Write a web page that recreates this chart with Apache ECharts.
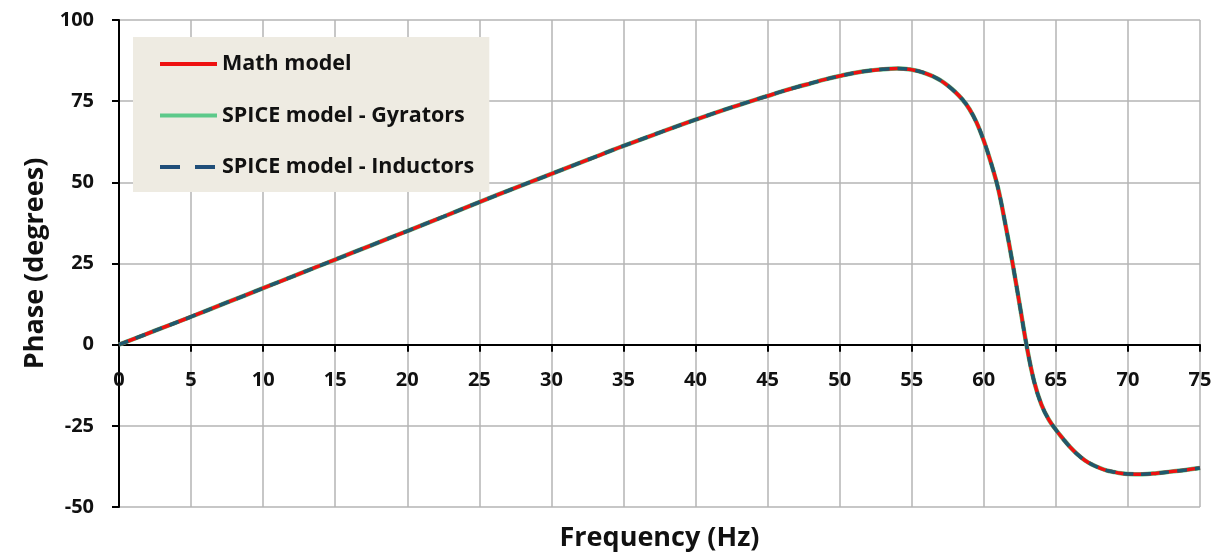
<!DOCTYPE html>
<html>
<head>
<meta charset="utf-8">
<script src="https://cdn.jsdelivr.net/npm/echarts@6/dist/echarts.min.js"></script>
<style>
html,body{margin:0;padding:0;background:#fff;}
#chart{width:1227px;height:556px;}
</style>
</head>
<body>
<div id="chart"></div>
<script>
// Frequency (Hz)
var freq = [0, 2.5, 5, 7.5, 10, 12.5, 15, 17.5, 20, 22.5, 25, 27.5, 30, 32.5, 35, 37.5, 40, 42.5, 45, 46, 47, 48, 49, 50, 51, 52, 53, 54, 55, 55.5, 56, 56.5, 57, 57.5, 58, 58.5, 59, 59.5, 60, 60.5, 61, 61.5, 62, 62.5, 63, 63.5, 64, 64.5, 65, 65.5, 66, 66.5, 67, 67.5, 68, 68.5, 69, 69.5, 70, 71, 72, 73, 74, 75];
// Phase (degrees) - the three models overlap
var mathModel = [0, 4.3, 8.6, 13.0, 17.4, 21.8, 26.2, 30.6, 35.0, 39.4, 43.9, 48.3, 52.6, 56.9, 61.2, 65.3, 69.3, 73.1, 76.6, 78.0, 79.3, 80.5, 81.7, 82.75, 83.7, 84.4, 84.85, 85.05, 84.7, 84.2, 83.5, 82.6, 81.4, 79.8, 77.9, 75.6, 72.6, 68.4, 62.8, 56.0, 48.0, 37.0, 25.0, 12.0, -1.0, -11.5, -18.5, -23.0, -26.2, -29.0, -31.6, -33.8, -35.6, -36.9, -37.9, -38.7, -39.2, -39.6, -39.8, -39.9, -39.6, -39.1, -38.6, -38.0];
var gyrators = [0, 4.3, 8.6, 13.0, 17.4, 21.8, 26.2, 30.6, 35.0, 39.4, 43.9, 48.3, 52.6, 56.9, 61.2, 65.3, 69.3, 73.1, 76.6, 78.0, 79.3, 80.5, 81.7, 82.75, 83.7, 84.4, 84.85, 85.05, 84.7, 84.2, 83.5, 82.6, 81.4, 79.8, 77.9, 75.6, 72.6, 68.4, 62.8, 56.0, 48.0, 37.0, 25.0, 12.0, -1.0, -11.5, -18.5, -23.0, -26.2, -29.0, -31.6, -33.8, -35.6, -36.9, -37.9, -38.7, -39.2, -39.6, -39.8, -39.9, -39.6, -39.1, -38.6, -38.0];
var inductors = [0, 4.3, 8.6, 13.0, 17.4, 21.8, 26.2, 30.6, 35.0, 39.4, 43.9, 48.3, 52.6, 56.9, 61.2, 65.3, 69.3, 73.1, 76.6, 78.0, 79.3, 80.5, 81.7, 82.75, 83.7, 84.4, 84.85, 85.05, 84.7, 84.2, 83.5, 82.6, 81.4, 79.8, 77.9, 75.6, 72.6, 68.4, 62.8, 56.0, 48.0, 37.0, 25.0, 12.0, -1.0, -11.5, -18.5, -23.0, -26.2, -29.0, -31.6, -33.8, -35.6, -36.9, -37.9, -38.7, -39.2, -39.6, -39.8, -39.9, -39.6, -39.1, -38.6, -38.0];
var seriesNames = ['Math model', 'SPICE model - Gyrators', 'SPICE model - Inductors'];

function pairs(ys) {
  return freq.map(function (f, i) { return [f, ys[i]]; });
}

var FONT = '"Open Sans", "DejaVu Sans", sans-serif';
var chart = echarts.init(document.getElementById('chart'), null, {renderer: 'canvas'});
chart.setOption({
  animation: false,
  backgroundColor: '#ffffff',
  grid: {left: 119, right: 27, top: 20, bottom: 49, containLabel: false, outerBoundsMode: 'none'},
  legend: {
    orient: 'vertical',
    left: 133,
    top: 37,
    padding: [16, 15, 14, 25],
    itemGap: 29.5,
    itemWidth: 57,
    itemHeight: 14,
    backgroundColor: '#eeebe2',
    itemStyle: {opacity: 0},
    lineStyle: {width: 4},
    textStyle: {fontFamily: FONT, fontWeight: 'bold', fontSize: 21.5, color: '#111'},
    data: [
      {name: seriesNames[0], lineStyle: {color: '#ee1111', width: 4}},
      {name: seriesNames[1], lineStyle: {color: '#5cc98a', width: 4}},
      {name: seriesNames[2], lineStyle: {color: '#1f4e79', width: 4, type: [20, 15]}}
    ]
  },
  xAxis: {
    type: 'value',
    min: 0, max: 75, interval: 5,
    name: 'Frequency (Hz)',
    nameLocation: 'middle',
    nameGap: 180,
    nameTextStyle: {fontFamily: FONT, fontWeight: 'bold', fontSize: 27, color: '#111'},
    offset: -162.3,
    axisLine: {onZero: false, lineStyle: {color: '#000', width: 2}},
    axisTick: {show: true, inside: false, length: 7, lineStyle: {color: '#000', width: 2}},
    axisLabel: {margin: 26, fontFamily: FONT, fontWeight: 'bold', fontSize: 20, color: '#111'},
    splitLine: {show: true, lineStyle: {color: '#b4b4b4', width: 1.5}}
  },
  yAxis: {
    type: 'value',
    min: -50, max: 100, interval: 25,
    name: 'Phase (degrees)',
    nameLocation: 'middle',
    nameGap: 69,
    nameTextStyle: {fontFamily: FONT, fontWeight: 'bold', fontSize: 27, color: '#111'},
    axisLine: {show: true, onZero: false, lineStyle: {color: '#000', width: 2}},
    axisTick: {show: true, inside: false, length: 7, lineStyle: {color: '#000', width: 2}},
    axisLabel: {margin: 25, fontFamily: FONT, fontWeight: 'bold', fontSize: 20, color: '#111'},
    splitLine: {show: true, lineStyle: {color: '#b4b4b4', width: 1.5}}
  },
  series: [
    {
      name: seriesNames[0], type: 'line', data: pairs(mathModel),
      showSymbol: false, symbol: 'none', smooth: 0.4, z: 3,
      lineStyle: {color: '#ee1111', width: 3.5}, itemStyle: {color: '#ee1111'}
    },
    {
      name: seriesNames[1], type: 'line', data: pairs(gyrators),
      showSymbol: false, symbol: 'none', smooth: 0.4, z: 2,
      lineStyle: {color: '#5cc98a', width: 4.5}, itemStyle: {color: '#5cc98a'}
    },
    {
      name: seriesNames[2], type: 'line', data: pairs(inductors),
      showSymbol: false, symbol: 'none', smooth: 0.4, z: 4,
      lineStyle: {color: '#1d5a6e', width: 3.5, type: [10, 8]}, itemStyle: {color: '#1f4e79'}
    }
  ]
});
</script>
</body>
</html>
